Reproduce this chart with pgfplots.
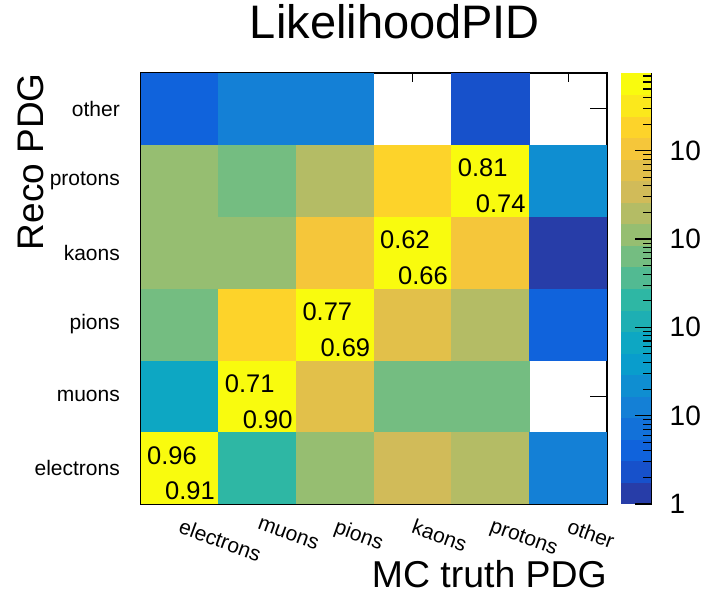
\documentclass[border=0pt]{standalone}
\usepackage{fontspec}
\setmainfont{Liberation Sans}
\usepackage{pgfplots}
\usepackage{pgfplotstable}
\pgfplotsset{compat=1.18}
\pgfdeclareplotmark{cell}{%
  \pgfpathrectangle{\pgfpoint{-39.1pt}{-36.2pt}}{\pgfpoint{78.2pt}{72.4pt}}%
  \pgfusepathqfill}
\pgfplotsset{colormap={bird20}{%
  rgb=(0.152,0.239,0.657) rgb=(0.091,0.318,0.795) rgb=(0.063,0.389,0.862)
  rgb=(0.070,0.443,0.851) rgb=(0.078,0.502,0.839) rgb=(0.057,0.558,0.820)
  rgb=(0.034,0.614,0.801) rgb=(0.052,0.656,0.764) rgb=(0.116,0.687,0.703)
  rgb=(0.180,0.718,0.643) rgb=(0.323,0.731,0.571) rgb=(0.455,0.742,0.504)
  rgb=(0.588,0.746,0.443) rgb=(0.706,0.739,0.396) rgb=(0.821,0.734,0.348)
  rgb=(0.888,0.754,0.290) rgb=(0.960,0.776,0.227) rgb=(0.992,0.829,0.166)
  rgb=(0.984,0.909,0.108) rgb=(0.976,0.983,0.054)}}
\pgfplotstableread{
x y n
0 0 74000
1 0 210
2 0 1100
3 0 3400
4 0 2000
5 0 12
0 1 68
1 1 52000
2 1 6000
3 1 620
4 1 650
0 2 590
1 2 17000
2 2 60000
3 2 5500
4 2 1800
5 2 4
0 3 1150
1 3 1200
2 3 10500
3 3 47000
4 3 11000
5 3 1
0 4 1100
1 4 600
2 4 2300
3 4 19000
4 4 55000
5 4 22
0 5 4
1 5 13
2 5 12
4 5 2
}\cells
\begin{document}
\begin{tikzpicture}[x=1pt,y=1pt]
\path[use as bounding box] (0,0) rectangle (707,594);
\begin{axis}[
  at={(141pt,90pt)}, anchor=south west,
  scale only axis, width=466pt, height=431pt,
  xmin=-0.5, xmax=5.5, ymin=-0.5, ymax=5.5,
  xtick={0,...,5}, ytick={0,...,5},
  xticklabels={electrons,muons,pions,kaons,protons,other},
  yticklabels={electrons,muons,pions,kaons,protons,other},
  tick align=inside, xtick pos=both, ytick pos=both,
  major tick length=17pt,
  xtick style={/pgfplots/major tick length=9pt},
  every tick/.style={black, line width=1.1pt},
  axis line style={line width=1.2pt, black},
  axis on top,
  colormap name=bird20,
  colormap access=piecewise constant,
  point meta min=0, point meta max=4.88,
  yticklabel style={font=\fontsize{21}{21}\selectfont, anchor=east, inner sep=0pt, xshift=-21pt},
  xticklabel style={font=\fontsize{21}{21}\selectfont, inner sep=0pt, yshift=-14pt, xshift=3pt, rotate=-20, anchor=north west},
  title={LikelihoodPID},
  title style={at={(axis description cs:0.545,1.065)}, anchor=base, font=\fontsize{47}{47}\selectfont, inner sep=0pt},
  xlabel={MC truth PDG},
  xlabel style={at={(axis description cs:1,-0.1926)}, anchor=base east, font=\fontsize{37.4}{37.4}\selectfont, inner sep=0pt},
  ylabel={Reco PDG},
  ylabel style={at={(axis description cs:-0.2103,1)}, anchor=base east, rotate=0, font=\fontsize{37}{37}\selectfont, inner sep=0pt},
  colorbar,
  colorbar style={
    at={(parent axis.south east)}, anchor=south west, xshift=5pt,
    scale only axis, width=31pt, height=431pt,
    axis x line=none, axis y line*=right,
    ytick={0,1,2,3,4}, yticklabels={1,10,10,10,10},
    minor ytick={0.30103,0.47712,0.60206,0.69897,0.77815,0.84510,0.90309,0.95424,
      1.30103,1.47712,1.60206,1.69897,1.77815,1.84510,1.90309,1.95424,
      2.30103,2.47712,2.60206,2.69897,2.77815,2.84510,2.90309,2.95424,
      3.30103,3.47712,3.60206,3.69897,3.77815,3.84510,3.90309,3.95424,
      4.30103,4.47712,4.60206,4.69897,4.77815,4.84510},
    tick align=inside, major tick length=17pt, minor tick length=9pt,
    every tick/.style={black, line width=1.1pt},
    axis line style={line width=1.2pt, black},
    yticklabel style={font=\fontsize{28}{28}\selectfont, anchor=west, inner sep=0pt, xshift=18pt},
  },
]
\addplot[scatter, only marks, mark=cell, scatter src=explicit,
  scatter/use mapped color={fill=mapped color, draw=none}]
  table[x=x, y=y, meta expr={log10(\thisrow{n})}] {\cells};
\addplot[only marks, mark=none, nodes near coords, point meta=explicit symbolic,
  nodes near coords style={anchor=base west, inner sep=0pt, font=\fontsize{25.5}{25.5}\selectfont, black}]
  table[meta=t] {
x y t
-0.423 0.054 0.96
0.577 1.054 0.71
1.577 2.054 0.77
2.577 3.054 0.62
3.577 4.054 0.81
};
\addplot[only marks, mark=none, nodes near coords, point meta=explicit symbolic,
  nodes near coords style={anchor=base west, inner sep=0pt, font=\fontsize{25.5}{25.5}\selectfont, black}]
  table[meta=t] {
x y t
-0.191 -0.444 0.91
0.809 0.556 0.90
1.809 1.556 0.69
2.809 2.556 0.66
3.809 3.556 0.74
};
\end{axis}
\end{tikzpicture}
\end{document}
